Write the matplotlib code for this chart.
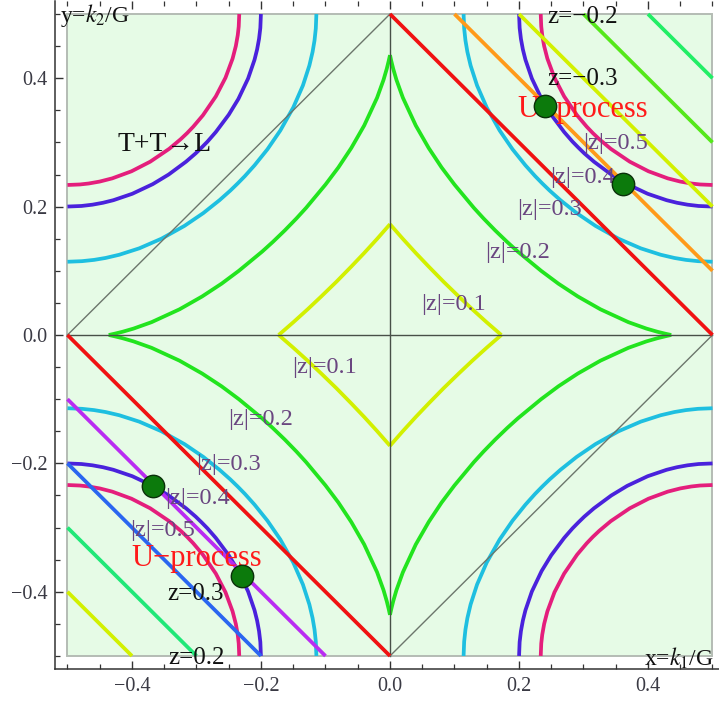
import matplotlib
matplotlib.use("Agg")
import matplotlib.pyplot as plt
from matplotlib.patches import Rectangle

plt.rcParams['font.family'] = ['Liberation Serif', 'DejaVu Serif']
plt.rcParams['mathtext.fontset'] = 'stix'

# |z| contour curves, first quadrant (x = k1/G, y = k2/G), mirrored to the others
z01_x = [0.0, 0.02, 0.04, 0.06, 0.083, 0.1066, 0.1277, 0.1497, 0.1726]
z01_y = [0.1726, 0.1497, 0.1277, 0.1066, 0.083, 0.06, 0.04, 0.02, 0.0]

z02_x = [0.0, 0.002, 0.005, 0.01, 0.02, 0.04, 0.06, 0.08, 0.10, 0.13, 0.145, 0.163,
         0.1816, 0.1981, 0.2343, 0.261, 0.2913, 0.3263, 0.3696, 0.3975, 0.4147, 0.4269, 0.436]
z02_y = [0.436, 0.4269, 0.4147, 0.3975, 0.3696, 0.3263, 0.2913, 0.261, 0.2343, 0.1981, 0.1816, 0.163,
         0.145, 0.13, 0.10, 0.08, 0.06, 0.04, 0.02, 0.01, 0.005, 0.002, 0.0]

z03_x = [0.1141, 0.115, 0.117, 0.12, 0.125, 0.135, 0.15, 0.17, 0.19, 0.21, 0.225, 0.2361,
         0.2475, 0.2643, 0.2893, 0.3186, 0.3543, 0.3887, 0.4197, 0.441, 0.4588, 0.4776, 0.5]
z03_y = [0.5, 0.4776, 0.4588, 0.441, 0.4197, 0.3887, 0.3543, 0.3186, 0.2893, 0.2643, 0.2475, 0.2361,
         0.225, 0.21, 0.19, 0.17, 0.15, 0.135, 0.125, 0.12, 0.117, 0.115, 0.1141]

z04_x = [0.2001, 0.201, 0.203, 0.206, 0.21, 0.22, 0.235, 0.25, 0.27, 0.283, 0.292,
         0.3012, 0.3162, 0.3431, 0.3678, 0.3995, 0.4288, 0.4449, 0.4613, 0.4783, 0.5]
z04_y = [0.5, 0.4783, 0.4613, 0.4449, 0.4288, 0.3995, 0.3678, 0.3431, 0.3162, 0.3012, 0.292,
         0.283, 0.27, 0.25, 0.235, 0.22, 0.21, 0.206, 0.203, 0.201, 0.2001]

z05_x = [0.2337, 0.2345, 0.236, 0.239, 0.244, 0.255, 0.27, 0.29, 0.305, 0.3145,
         0.3245, 0.3423, 0.3717, 0.4008, 0.4306, 0.4501, 0.4671, 0.4806, 0.5]
z05_y = [0.5, 0.4806, 0.4671, 0.4501, 0.4306, 0.4008, 0.3717, 0.3423, 0.3245, 0.3145,
         0.305, 0.29, 0.27, 0.255, 0.244, 0.239, 0.236, 0.2345, 0.2337]

curve_colors = ['#d2f000', '#22e41e', '#1ebfe0', '#4a22dc', '#e41e7c']
quadrant_signs = [(1, 1), (-1, 1), (1, -1), (-1, -1)]

# momentum lines x + y = const, labelled by z
line_z = [-0.1, -0.2, -0.3, -0.4, -0.5, 0.5, 0.4, 0.3, 0.2, 0.1]
line_x0 = [0.4, 0.3, 0.2, 0.1, 0.0, -0.5, -0.5, -0.5, -0.5, -0.5]
line_y0 = [0.5, 0.5, 0.5, 0.5, 0.5, 0.0, -0.1, -0.2, -0.3, -0.4]
line_x1 = [0.5, 0.5, 0.5, 0.5, 0.5, 0.0, -0.1, -0.2, -0.3, -0.4]
line_y1 = [0.4, 0.3, 0.2, 0.1, 0.0, -0.5, -0.5, -0.5, -0.5, -0.5]
line_colors = ['#22ee66', '#55e81a', '#d2f000', '#ff9a1a', '#f01212',
               '#f01212', '#b92cf2', '#2a66f0', '#20e878', '#d2f000']

# thin guide lines
guide_x0 = [-0.5, 0.0, -0.5, 0.0]
guide_y0 = [0.0, -0.5, 0.0, -0.5]
guide_x1 = [0.5, 0.0, 0.0, 0.5]
guide_y1 = [0.0, 0.5, 0.5, 0.0]
guide_colors = ['#485048', '#485048', '#6c766c', '#6c766c']

# solutions (U-process)
dot_x = [0.241, 0.361, -0.367, -0.229]
dot_y = [0.357, 0.235, -0.236, -0.376]

# labels
zlab_text = ['|z|=0.5', '|z|=0.4', '|z|=0.3', '|z|=0.2', '|z|=0.1',
             '|z|=0.1', '|z|=0.2', '|z|=0.3', '|z|=0.4', '|z|=0.5']
zlab_x = [0.349, 0.299, 0.247, 0.198, 0.098, -0.101, -0.200, -0.250, -0.299, -0.352]
zlab_y = [0.299, 0.246, 0.196, 0.128, 0.047, -0.051, -0.131, -0.201, -0.254, -0.304]

zval_text = ['z=\u22120.2', 'z=\u22120.3', 'z=0.3', 'z=0.2']
zval_x = [0.299, 0.299, -0.301, -0.300]
zval_y = [0.495, 0.399, -0.403, -0.503]

proc_x = [0.298, -0.299]
proc_y = [0.352, -0.348]

ticks = [-0.4, -0.2, 0.0, 0.2, 0.4]
tick_labels = ['\u22120.4', '\u22120.2', '0.0', '0.2', '0.4']
minor_ticks = [-0.5, -0.45, -0.35, -0.3, -0.25, -0.15, -0.1, -0.05,
               0.05, 0.1, 0.15, 0.25, 0.3, 0.35, 0.45, 0.5]

fig = plt.figure(figsize=(7.19, 7.02), dpi=100)
ax = fig.add_axes([0.0759, 0.0473, 0.9330, 0.9510])
ax.set_xlim(-0.52, 0.52)
ax.set_ylim(-0.52, 0.52)

ax.add_patch(Rectangle((-0.5, -0.5), 1.0, 1.0, facecolor='#e6fbe6',
                       edgecolor='#b4bcb4', lw=1.4, zorder=0))

cx = [z01_x, z02_x, z03_x, z04_x, z05_x]
cy = [z01_y, z02_y, z03_y, z04_y, z05_y]
for xs, ys, col in zip(cx, cy, curve_colors):
    for sx, sy in quadrant_signs:
        ax.plot([sx * v for v in xs], [sy * v for v in ys], color=col,
                lw=2.7, solid_capstyle='butt', zorder=2)

for i in range(len(guide_x0)):
    ax.plot([guide_x0[i], guide_x1[i]], [guide_y0[i], guide_y1[i]],
            color=guide_colors[i], lw=1.0, zorder=3)

for i in range(len(line_z)):
    ax.plot([line_x0[i], line_x1[i]], [line_y0[i], line_y1[i]],
            color=line_colors[i], lw=2.7, solid_capstyle='butt', zorder=4)

for t, x, y in zip(zlab_text, zlab_x, zlab_y):
    ax.text(x, y, t, color='#6a4680', fontsize=17.5, ha='center', va='center', zorder=6)

for t, x, y in zip(zval_text, zval_x, zval_y):
    ax.text(x, y, t, color='#111111', fontsize=18, ha='center', va='center', zorder=6)

for x, y in zip(proc_x, proc_y):
    ax.text(x, y, 'U\u2212process', color='#ff1a1a', fontsize=22,
            ha='center', va='center', zorder=6)

ax.text(-0.349, 0.296, 'T+T\u2192L', color='#111111', fontsize=20,
        ha='center', va='center', zorder=6)
ax.text(-0.512, 0.497, r'y=$k_2$/G', color='#111111', fontsize=17,
        ha='left', va='center', zorder=6)
ax.text(0.502, -0.504, r'x=$k_1$/G', color='#111111', fontsize=17,
        ha='right', va='center', zorder=6)

ax.scatter(dot_x, dot_y, s=260, color='#0c7a0c', edgecolors='#0a300a',
           linewidths=1.0, zorder=8)

ax.set_xticks(ticks)
ax.set_xticklabels(tick_labels)
ax.set_yticks(ticks)
ax.set_yticklabels(tick_labels)
ax.set_xticks(minor_ticks, minor=True)
ax.set_yticks(minor_ticks, minor=True)
ax.tick_params(which='both', direction='in', top=True, right=False,
               color='#333333', labelcolor='#3a3a44', labelsize=14.5)
ax.tick_params(axis='y', which='both', pad=5)
ax.tick_params(axis='x', which='both', pad=6)
ax.tick_params(which='major', length=5.5, width=1.0)
ax.tick_params(which='minor', length=3.5, width=0.9)
for side in ['left', 'bottom']:
    ax.spines[side].set_color('#333333')
    ax.spines[side].set_linewidth(1.1)
for side in ['top', 'right']:
    ax.spines[side].set_visible(False)

fig.savefig('out.png', dpi=100)
